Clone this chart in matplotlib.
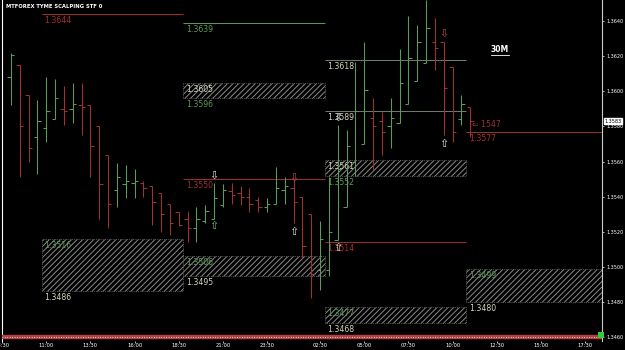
import matplotlib
matplotlib.use('Agg')
import matplotlib.pyplot as plt
from matplotlib.patches import Rectangle
import matplotlib.transforms as mtransforms

# ---------------- DATA ----------------
# 30M bars, one per index
opens = [1.3608, 1.3615, 1.3598, 1.3574, 1.3579, 1.3584, 1.3590, 1.3590, 1.3592, 1.3592,
         1.3580, 1.3564, 1.3544, 1.3547, 1.3548, 1.3548, 1.3546, 1.3542, 1.3536, 1.3531,
         1.3527, 1.3522, 1.3526, 1.3527, 1.3535, 1.3543, 1.3542, 1.3540, 1.3538, 1.3534,
         1.3536, 1.3544, 1.3545, 1.3540, 1.3530, 1.3498, 1.3498, 1.3515, 1.3534, 1.3560,
         1.3570, 1.3585, 1.3583, 1.3580, 1.3582, 1.3593, 1.3606, 1.3616, 1.3628, 1.3628,
         1.3614, 1.3584, 1.3591]
highs = [1.3622, 1.3615, 1.3598, 1.3595, 1.3608, 1.3607, 1.3603, 1.3605, 1.3605, 1.3592,
         1.3580, 1.3564, 1.3559, 1.3558, 1.3556, 1.3549, 1.3546, 1.3542, 1.3536, 1.3531,
         1.3532, 1.3534, 1.3535, 1.3548, 1.3547, 1.3548, 1.3546, 1.3545, 1.3540, 1.3539,
         1.3557, 1.3551, 1.3550, 1.3540, 1.3530, 1.3526, 1.3551, 1.3581, 1.3578, 1.3617,
         1.3628, 1.3596, 1.3588, 1.3596, 1.3624, 1.3643, 1.3638, 1.3652, 1.3642, 1.3628,
         1.3614, 1.3598, 1.3591]
lows = [1.3592, 1.3551, 1.3560, 1.3553, 1.3571, 1.3584, 1.3581, 1.3582, 1.3575, 1.3551,
        1.3527, 1.3522, 1.3534, 1.3539, 1.3539, 1.3540, 1.3524, 1.3520, 1.3518, 1.3523,
        1.3514, 1.3514, 1.3525, 1.3527, 1.3534, 1.3536, 1.3535, 1.3531, 1.3531, 1.3531,
        1.3536, 1.3536, 1.3525, 1.3505, 1.3482, 1.3487, 1.3495, 1.3515, 1.3534, 1.3552,
        1.3570, 1.3555, 1.3564, 1.3568, 1.3582, 1.3593, 1.3606, 1.3616, 1.3612, 1.3575,
        1.3571, 1.3581, 1.3574]
closes = [1.3621, 1.3580, 1.3568, 1.3583, 1.3589, 1.3596, 1.3589, 1.3593, 1.3591, 1.3569,
          1.3547, 1.3536, 1.3551, 1.3549, 1.3549, 1.3545, 1.3537, 1.3530, 1.3525, 1.3524,
          1.3522, 1.3527, 1.3532, 1.3539, 1.3544, 1.3541, 1.3540, 1.3536, 1.3534, 1.3536,
          1.3545, 1.3546, 1.3537, 1.3512, 1.3496, 1.3516, 1.3520, 1.3556, 1.3569, 1.3589,
          1.3601, 1.3580, 1.3577, 1.3585, 1.3605, 1.3619, 1.3628, 1.3636, 1.3625, 1.3602,
          1.3577, 1.3593, 1.3583]

time_pos = [-1, 4, 9, 14, 19, 24, 29, 35, 40, 45, 50, 55, 60, 65]
time_labels = ["08:30", "11:00", "13:30", "16:00", "18:30", "21:00", "23:30",
               "02:30", "05:00", "07:30", "10:00", "12:30", "15:00", "17:30"]

price_ticks = [1.3460, 1.3480, 1.3500, 1.3520, 1.3540, 1.3560, 1.3580, 1.3600, 1.3620, 1.3640]

# session levels
level_price = [1.3644, 1.3639, 1.3550, 1.3618, 1.3589, 1.3514, 1.3577]
level_from = [3.5, 19.5, 19.5, 35.5, 35.5, 35.5, 51.5]
level_to = [19.5, 35.5, 35.5, 51.5, 51.5, 51.5, 67]
level_kind = ["hi", "lo", "hi", "mid", "mid", "hi", "hi"]

# hatched zones
zone_top = [1.3516, 1.3605, 1.3506, 1.3561, 1.3477, 1.3499]
zone_bot = [1.3486, 1.3596, 1.3495, 1.3552, 1.3468, 1.3480]
zone_from = [3.5, 19.5, 19.5, 35.5, 35.5, 51.5]
zone_to = [19.5, 35.5, 35.5, 51.5, 51.5, 67]
zone_kind = ["dn", "up", "dn", "up", "dn", "dn"]

# signal arrows
arrow_bar = [23, 23, 32, 32, 37, 37, 49, 49]
arrow_price = [1.3552, 1.3523, 1.3551, 1.3520, 1.3585, 1.3511, 1.3633, 1.3570]
arrow_dir = ["down", "up", "down", "up", "down", "up", "down", "up"]
arrow_kind = ["w", "g", "r", "w", "w", "w", "r", "w"]

last_price = 1.3583

# ---------------- STYLE ----------------
GREEN = "#5a9c5a"
RED = "#a33030"
LIGHT = "#d4d4bc"
MID = "#6f7f6f"

plt.rcParams['hatch.linewidth'] = 0.7

fig = plt.figure(figsize=(6.25, 3.5), dpi=100, facecolor="black")
ax = fig.add_axes([2 / 625, 9 / 350, 600 / 625, 341 / 350])
ax.set_facecolor("black")
ax.set_xlim(-0.9, 66.9)
ax.set_ylim(1.34577, 1.36521)

# zones
for top, bot, x0, x1, kind in zip(zone_top, zone_bot, zone_from, zone_to, zone_kind):
    ax.add_patch(Rectangle((x0, bot), x1 - x0, top - bot, facecolor="black",
                           edgecolor="#8a8a8a", hatch="//////", linewidth=0.5,
                           linestyle=":", zorder=1))
    c_in = LIGHT if kind == "up" else GREEN
    c_out = GREEN if kind == "up" else LIGHT
    ax.annotate(f"{top:.4f}", (x0, top), xytext=(2, -1.5), textcoords="offset points",
                va="top", ha="left", fontsize=5.6, color=c_in, zorder=3)
    ax.annotate(f"{bot:.4f}", (x0, bot), xytext=(2, -1.5), textcoords="offset points",
                va="top", ha="left", fontsize=5.6, color=c_out, zorder=3)

# levels
kind_color = {"hi": RED, "lo": GREEN, "mid": MID}
label_color = {"hi": RED, "lo": GREEN, "mid": LIGHT}
for p, x0, x1, kind in zip(level_price, level_from, level_to, level_kind):
    ax.hlines(p, x0, x1, color=kind_color[kind], linewidth=0.7, zorder=2)
    ax.annotate(f"{p:.4f}", (x0, p), xytext=(2, -1.5), textcoords="offset points",
                va="top", ha="left", fontsize=5.6, color=label_color[kind], zorder=3)

# bars
for i, (o, h, l, c) in enumerate(zip(opens, highs, lows, closes)):
    col = GREEN if c >= o else RED
    ax.vlines(i, l, h, color=col, linewidth=0.75, zorder=4)
    ax.hlines(o, i - 0.38, i, color=col, linewidth=0.75, zorder=4)
    ax.hlines(c, i, i + 0.38, color=col, linewidth=0.75, zorder=4)

# arrows
arrow_color = {"w": "#e0e0e0", "g": "#6fbf6f", "r": "#c04848"}
for b, p, d, k in zip(arrow_bar, arrow_price, arrow_dir, arrow_kind):
    ax.text(b, p, "\u21e9" if d == "down" else "\u21e7", ha="center", va="center",
            fontsize=8, color=arrow_color[k], zorder=5)

ax.text(52.2, 1.3581, "\u21d0 1547", fontsize=5.6, color=RED,
        va="center", ha="left", zorder=5)

# 30M label
ax.text(0.83, 0.855, "30M", transform=ax.transAxes, color="white", fontsize=5.5,
        fontweight="bold", ha="center", va="center")
ax.plot([0.815, 0.845], [0.838, 0.838], transform=ax.transAxes, color="white", lw=0.6)

# axes
for s in ["top", "bottom"]:
    ax.spines[s].set_visible(False)
ax.spines["left"].set_color("white")
ax.spines["left"].set_linewidth(0.8)
ax.spines["right"].set_color("#cccccc")
ax.spines["right"].set_linewidth(0.8)
ax.yaxis.tick_right()
ax.set_yticks(price_ticks)
ax.set_yticklabels([f"{t:.4f}" for t in price_ticks])
ax.tick_params(axis="y", colors="white", labelsize=3.5, length=1.5, width=0.5, pad=1.5)
ax.set_xticks(time_pos)
ax.set_xticklabels(time_labels)
ax.tick_params(axis="x", colors="white", labelsize=3.8, length=1.2, width=0.5, pad=0.5)

# bottom dotted strip
ax.plot([0, 1], [0.012, 0.012], transform=ax.transAxes, color="#b04040", lw=3.2,
        solid_capstyle="butt", zorder=6)
ax.plot([0, 1], [0.012, 0.012], transform=ax.transAxes, color="white", lw=0.8,
        linestyle=(0, (0.6, 1.6)), zorder=7)

# last price box
trans = mtransforms.blended_transform_factory(ax.transAxes, ax.transData)
ax.text(1.004, last_price, f"{last_price:.4f}", transform=trans, fontsize=3.5,
        color="black", va="center", ha="left",
        bbox=dict(boxstyle="square,pad=0.15", facecolor="white", edgecolor="white"))

# title
fig.text(6 / 625, 1 - 6 / 350, "MTFOREX TYME SCALPING STF 0", color="white",
         fontsize=3.8, fontweight="bold", va="center", ha="left")

# corner marker
fig.patches.append(Rectangle((598 / 625, 12 / 350), 6 / 625, 6 / 350, transform=fig.transFigure,
                             facecolor="#33cc33", edgecolor="none"))

fig.savefig("out.png", dpi=100, facecolor="black")
